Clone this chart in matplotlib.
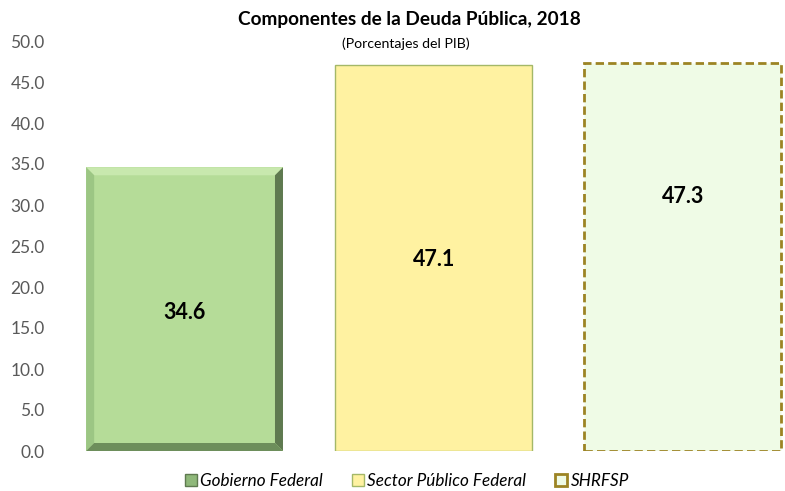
import matplotlib
matplotlib.use("Agg")
import matplotlib.pyplot as plt
from matplotlib.patches import Polygon, Patch
import numpy as np

plt.rcParams['font.family'] = ['Lato', 'DejaVu Sans']

categorias = ["Gobierno Federal", "Sector Público Federal", "SHRFSP"]
valores = [34.6, 47.1, 47.3]
etiquetas_y = [16.9, 23.3, 31.0]   # where the number sits inside each bar
yticks = np.arange(0, 50.1, 5)

fig = plt.figure(figsize=(7.85, 4.91), dpi=100)
ax = fig.add_axes([60 / 785, 40 / 491, 725 / 785, 410 / 491])

x = np.arange(len(categorias))
ancho = 0.79

b1 = ax.bar(x[0], valores[0], ancho, color="#b5dc98", edgecolor="none", zorder=2)
b2 = ax.bar(x[1], valores[1], ancho, color="#fff2a1", edgecolor="#a4b868", linewidth=1.0, zorder=2)
b3 = ax.bar(x[2], valores[2], ancho, color="#effbe6", edgecolor="#9c8424", linewidth=2.0,
            linestyle=(0, (3, 1.5)), zorder=2)

ax.set_xlim(-0.5, 2.41)
ax.set_ylim(0, 50)

# bevel on the first bar (pixel widths converted to data)
fig.canvas.draw()
px_x = (ax.get_xlim()[1] - ax.get_xlim()[0]) / ax.bbox.width
px_y = 50 / ax.bbox.height
bx = 8 * px_x
by = 8 * px_y
r = b1[0]
x0, x1 = r.get_x(), r.get_x() + r.get_width()
y0, y1 = 0, r.get_height()
ax.add_patch(Polygon([[x0, y1], [x1, y1], [x1 - bx, y1 - by], [x0 + bx, y1 - by]],
                     color="#c8e8ae", zorder=3, lw=0))
ax.add_patch(Polygon([[x0, y0], [x0, y1], [x0 + bx, y1 - by], [x0 + bx, y0 + by]],
                     color="#9cc684", zorder=3, lw=0))
ax.add_patch(Polygon([[x1, y0], [x1, y1], [x1 - bx, y1 - by], [x1 - bx, y0 + by]],
                     color="#5f7a50", zorder=3, lw=0))
ax.add_patch(Polygon([[x0, y0], [x1, y0], [x1 - bx, y0 + by], [x0 + bx, y0 + by]],
                     color="#6d8e5b", zorder=3, lw=0))

for xi, v, ly in zip(x, valores, etiquetas_y):
    ax.text(xi, ly, f"{v:.1f}", ha="center", va="center", fontsize=15.5,
            fontweight="bold", color="black", zorder=4)

ax.set_yticks(yticks)
ax.set_yticklabels([f"{t:.1f}" for t in yticks], fontsize=12.5, color="#595959")
ax.set_xticks([])
ax.tick_params(axis="y", length=0, pad=11)
for s in ax.spines.values():
    s.set_visible(False)

fig.text(409 / 785, 1 - 20 / 491, "Componentes de la Deuda Pública, 2018", ha="center",
         va="center", fontsize=13.7, fontweight="bold")
fig.text(406 / 785, 1 - 44 / 491, "(Porcentajes del PIB)", ha="center", va="center",
         fontsize=10.2)

handles = [
    Patch(facecolor="#8fb87a", edgecolor="#5f7a50", linewidth=1),
    Patch(facecolor="#fff2a1", edgecolor="#a4b868", linewidth=1),
    Patch(facecolor="#effbe6", edgecolor="#9c8424", linewidth=2),
]
fig.legend(handles, categorias, loc="center", bbox_to_anchor=(407 / 785, 1 - 481 / 491),
           ncol=3, frameon=False, prop={"style": "italic", "size": 12.3},
           handlelength=0.7, handleheight=0.7, handletextpad=0.2, columnspacing=1.7)

fig.savefig("out.png", dpi=100)
